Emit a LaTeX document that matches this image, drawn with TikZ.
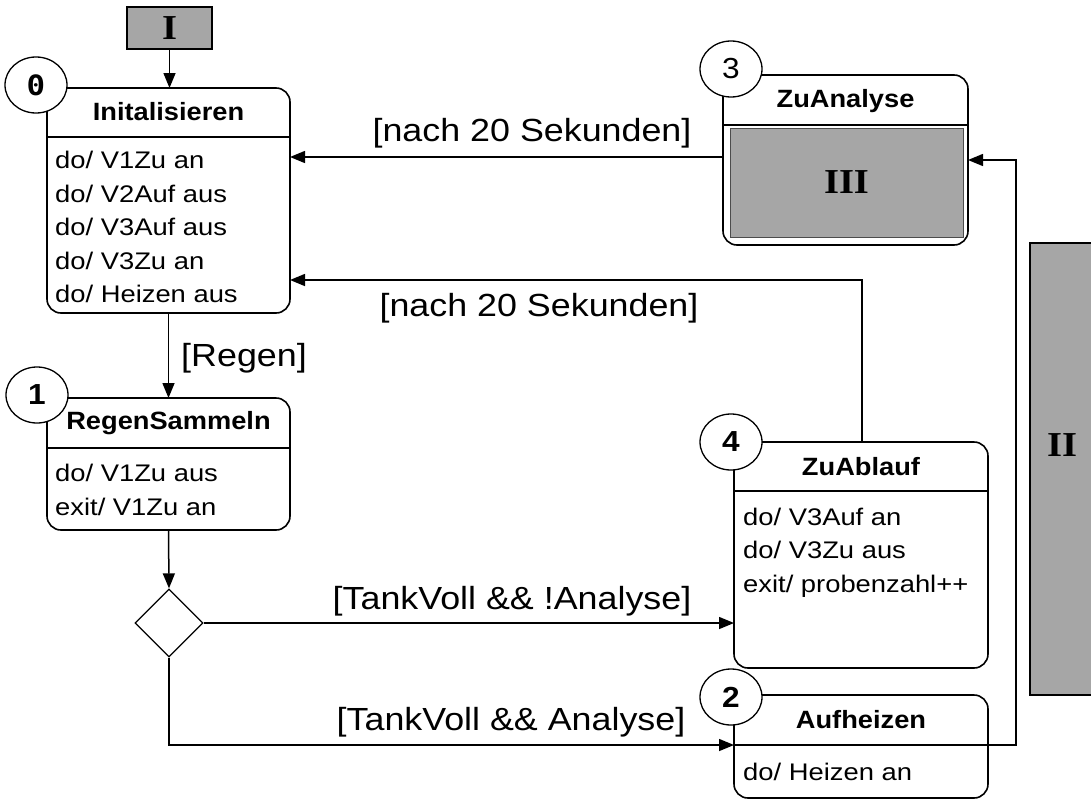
\documentclass[tikz,border=0pt]{standalone}
\usepackage{fontspec}
\setmainfont{Liberation Sans}
\newfontfamily\labfont[FakeStretch=1.12]{Liberation Sans}
\newfontfamily\bodyfont[FakeStretch=1.14]{Liberation Sans}
\newfontfamily\ttlfont[FakeStretch=1.09]{Liberation Sans}
\newfontfamily\romfont[FakeStretch=1.1]{Liberation Serif}
\newfontfamily\numfont[FakeStretch=1.1]{DejaVu Sans Mono}
\usetikzlibrary{arrows.meta,shapes.geometric}
\definecolor{boxgray}{RGB}{166,166,166}
\tikzset{
  statebox/.style={draw, line width=1.6, rounded corners=14, fill=white, inner sep=0, outer sep=0},
  divline/.style={line width=1.6},
  ttl/.style={inner sep=0, font=\ttlfont\bfseries\fontsize{25}{28}\selectfont},
  body/.style={inner sep=0, anchor=north west, align=left, font=\bodyfont\fontsize{24}{33.5}\selectfont},
  lab/.style={inner sep=0, font=\labfont\fontsize{32}{36}\selectfont},
  num/.style={draw, line width=1.3, fill=white, ellipse, minimum width=62, minimum height=56, inner sep=0},
  numtxt/.style={font=\ttlfont\bfseries\fontsize{29}{30}\selectfont},
  graybox/.style={draw, fill=boxgray, line width=1.2, inner sep=0, font=\romfont\bfseries\fontsize{35}{40}\selectfont},
  arr/.style={line width=1.5, -{Triangle[length=15pt,width=12pt]}},
}
\begin{document}
\begin{tikzpicture}[x=1pt,y=-1pt]
\useasboundingbox (0,0) rectangle (1091,800);

% initial block I
\node[graybox, minimum width=85, minimum height=42] (I) at (169.5,28) {I};

% state 0: Initalisieren
\node[statebox, minimum width=243, minimum height=225] (init) at (168.5,200.5) {};
\coordinate (initD) at (47,137);
\draw[divline] (initD) -- (initD -| init.east);
\node[ttl] (initT) at (168.5,112) {Initalisieren};
\node[body] (initB) at (55,151) {do/ V1Zu an\\do/ V2Auf aus\\do/ V3Auf aus\\do/ V3Zu an\\do/ Heizen aus};
\node[num, font=\numfont\bfseries\fontsize{28}{30}\selectfont] (c0) at (36,85) {0};

% state 1: RegenSammeln
\node[statebox, minimum width=243, minimum height=132] (regen) at (168.5,464) {};
\coordinate (regenD) at (47,448);
\draw[divline] (regenD) -- (regenD -| regen.east);
\node[ttl] (regenT) at (168.5,423) {RegenSammeln};
\node[body] (regenB) at (55,464) {do/ V1Zu aus\\exit/ V1Zu an};
\node[num, numtxt] (c1) at (37,395) {1};

% decision
\node[draw, diamond, line width=1.3, minimum width=68, minimum height=68, inner sep=0, aspect=1] (dia) at (169,623) {};

% state 4: ZuAblauf
\node[statebox, minimum width=254, minimum height=226] (abl) at (861,555) {};
\coordinate (ablD) at (734,491);
\draw[divline] (ablD) -- (ablD -| abl.east);
\node[ttl] (ablT) at (861,466.5) {ZuAblauf};
\node[body] (ablB) at (743,507.5) {do/ V3Auf an\\do/ V3Zu aus\\exit/ probenzahl++};
\node[num, numtxt] (c4) at (731,442) {4};

% state 2: Aufheizen
\node[statebox, minimum width=254, minimum height=103] (auf) at (861,746.5) {};
\coordinate (aufD) at (734,745);
\coordinate (aufR) at (988,745);
\draw[divline] (aufD) -- (aufR);
\node[ttl] (aufT) at (861,720) {Aufheizen};
\node[body] (aufB) at (743,762.5) {do/ Heizen an};
\node[num, numtxt] (c2) at (731,697) {2};

% state 3: ZuAnalyse
\node[statebox, minimum width=245, minimum height=170] (ana) at (845.5,160) {};
\coordinate (anaD) at (723,125);
\draw[divline] (anaD) -- (anaD -| ana.east);
\node[ttl] (anaT) at (845.5,101) {ZuAnalyse};
\node[graybox, draw=black!70, line width=1, minimum width=233, minimum height=109] (III) at (846.5,182.5) {III};
\node[num, font=\ttlfont\fontsize{29}{30}\selectfont] (c3) at (731,69) {3};

% block II
\node[graybox, minimum width=64, minimum height=452] (II) at (1062,469) {};
\node[inner sep=0, font=\romfont\bfseries\fontsize{35}{40}\selectfont] (IIt) at (1062,445) {II};

% connectors
\coordinate (initIn1) at (290,157);
\coordinate (initIn2) at (290,280);
\coordinate (anaOut) at (723,157);
\coordinate (anaIn) at (968,160);
\coordinate (ablTop) at (862,442);
\coordinate (ablIn) at (734,623);

\draw[arr] (I.south) -- (I.south |- init.north);
\draw[arr] (init.south) -- (init.south |- regen.north);
\draw[arr] (regen.south) -- (dia.north);
\draw[arr] (dia.east) -- (ablIn);
\draw[arr] (dia.south) |- (aufD);
\draw[arr] (aufR) -- (1016,745) -- (1016,160) -- (anaIn);
\draw[arr] (anaOut) -- (initIn1);
\draw[arr] (ablTop) |- (initIn2);

% labels
\node[lab] (l1) at (532,133) {[nach 20 Sekunden]};
\node[lab] (l2) at (539,308) {[nach 20 Sekunden]};
\node[lab] (l3) at (244,358) {[Regen]};
\node[lab] (l4) at (512,601) {[TankVoll \&\& !Analyse]};
\node[lab] (l5) at (511,722) {[TankVoll \&\& Analyse]};
\end{tikzpicture}
\end{document}
